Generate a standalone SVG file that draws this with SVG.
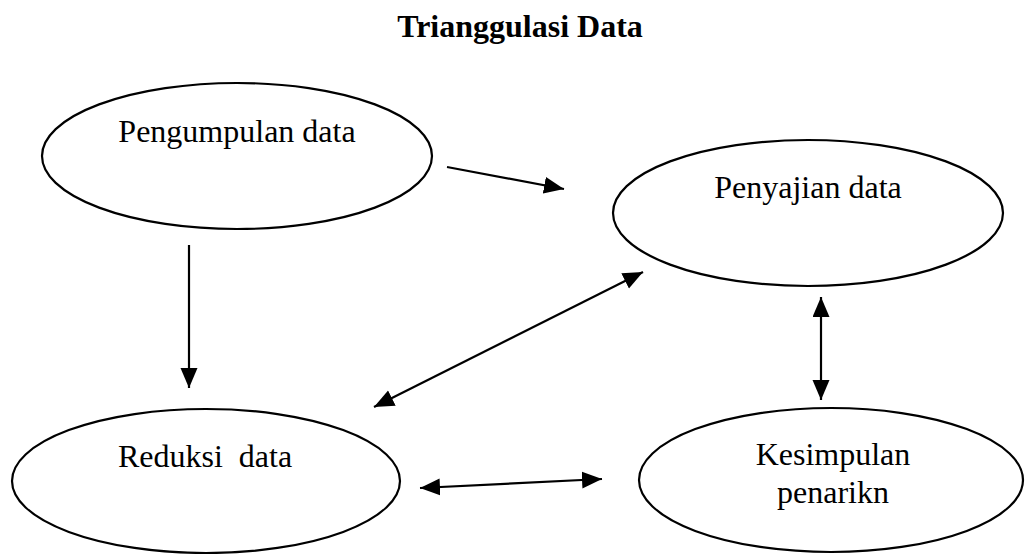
<svg xmlns="http://www.w3.org/2000/svg" width="1025" height="554" viewBox="0 0 1025 554">
<style>
.node ellipse{fill:#fff;stroke:#000;stroke-width:2.2}
.lbl{font-family:"Liberation Serif","DejaVu Serif",serif;font-size:32px;fill:#000;text-anchor:middle}
.title{font-family:"Liberation Serif","DejaVu Serif",serif;font-size:32px;font-weight:bold;fill:#000;text-anchor:middle}
.conn line{stroke:#000;stroke-width:2.2}
</style>
<defs>
<marker id="ah" markerUnits="userSpaceOnUse" markerWidth="22" markerHeight="18" refX="20" refY="8.5" orient="auto-start-reverse" viewBox="0 0 22 18">
<path d="M0,0 L20,8.5 L0,17 z" fill="#000"/>
</marker>
</defs>
<rect width="1025" height="554" fill="#fff"/>
<text class="title" x="520" y="37">Trianggulasi Data</text>
<g id="pengumpulan" class="node">
<ellipse cx="237" cy="156" rx="195" ry="73"/>
<text class="lbl" x="237" y="142">Pengumpulan data</text>
</g>
<g id="penyajian" class="node">
<ellipse cx="808" cy="213" rx="195" ry="73"/>
<text class="lbl" x="808" y="198">Penyajian data</text>
</g>
<g id="reduksi" class="node">
<ellipse cx="206" cy="481" rx="194" ry="72"/>
<text class="lbl" x="205" y="467" xml:space="preserve">Reduksi  data</text>
</g>
<g id="kesimpulan" class="node">
<ellipse cx="831" cy="480" rx="192" ry="72"/>
<text class="lbl" x="833" y="465">Kesimpulan</text>
<text class="lbl" x="833" y="503">penarikn</text>
</g>
<g id="connectors" class="conn">
<line x1="447" y1="167" x2="564" y2="189" marker-end="url(#ah)"/>
<line x1="189" y1="245" x2="189" y2="388" stroke-width="1.6" marker-end="url(#ah)"/>
<line x1="374" y1="407" x2="643" y2="272" marker-start="url(#ah)" marker-end="url(#ah)"/>
<line x1="821" y1="297" x2="821" y2="400" marker-start="url(#ah)" marker-end="url(#ah)"/>
<line x1="420" y1="488" x2="602" y2="479" marker-start="url(#ah)" marker-end="url(#ah)"/>
</g>
</svg>
